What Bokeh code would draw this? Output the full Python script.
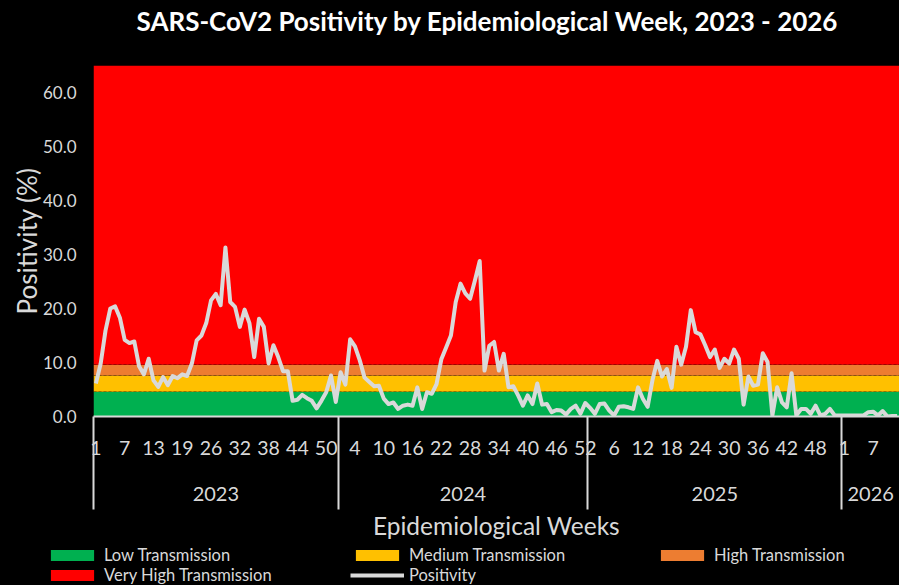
import numpy as np
from bokeh.plotting import figure
from bokeh.layouts import column
from bokeh.models import (Range1d, LinearAxis, FixedTicker, Legend, LegendItem,
                          PrintfTickFormatter, Title)
from bokeh.embed import file_html
from bokeh.resources import INLINE

# ---------------- data ----------------
years = ["2023", "2024", "2025", "2026"]
weeks_2023 = list(range(1, 20)) + list(range(21, 53))   # 51 weeks reported
weeks_2024 = list(range(1, 53))
weeks_2025 = list(range(1, 54))
weeks_2026 = list(range(1, 13))

pos_2023 = [6.1, 9.8, 15.9, 20.0, 20.4, 18.3, 14.2, 13.6, 13.9, 9.3,
            7.8, 10.7, 6.7, 5.5, 7.3, 5.8, 7.5, 7.1, 7.8, 7.5,
            9.8, 14.1, 15.0, 17.3, 21.5, 22.7, 20.6, 31.3, 21.2, 20.3,
            16.6, 19.8, 17.3, 11.0, 18.1, 16.6, 9.8, 13.2, 11.0, 8.4,
            8.4, 2.9, 3.1, 4.0, 3.4, 2.9, 1.5, 2.9, 4.5, 7.6,
            2.7]
pos_2024 = [8.2, 5.9, 14.3, 13.0, 10.4, 7.2, 6.4, 5.6, 5.7, 3.3,
            2.3, 2.6, 1.4, 2.0, 2.2, 2.0, 5.4, 1.4, 4.5, 4.2,
            6.0, 10.6, 12.8, 15.0, 21.2, 24.6, 22.8, 21.8, 25.2, 28.8,
            8.5, 13.1, 13.8, 8.5, 11.6, 5.4, 5.6, 3.9, 2.0, 3.9,
            2.3, 6.1, 2.2, 2.3, 0.8, 1.2, 1.1, 0.4, 1.4, 2.0,
            0.5, 2.5]
pos_2025 = [1.6, 0.5, 2.3, 2.4, 1.1, 0.2, 1.8, 1.9, 1.7, 1.4,
            5.4, 3.3, 1.8, 6.7, 10.3, 7.4, 8.8, 5.3, 12.9, 9.6,
            12.9, 19.7, 15.6, 15.2, 13.2, 11.0, 12.4, 9.0, 10.7, 9.8,
            12.4, 10.7, 2.2, 7.4, 5.7, 5.9, 11.7, 10.1, 0.2, 5.4,
            2.6, 1.7, 8.0, 0.2, 1.4, 1.4, 0.5, 2.0, 0.2, 0.5,
            1.4, 0.2, 0.2]
pos_2026 = [0.2, 0.2, 0.2, 0.2, 0.2, 0.8, 0.9, 0.2, 1.0, 0.0,
            0.1, 0.1]

band_names = ["Low Transmission", "Medium Transmission", "High Transmission", "Very High Transmission"]
band_tops = [4.6, 7.6, 9.6, 65.0]
band_colors = ["#00B050", "#FFC000", "#ED7D31", "#FF0000"]
y_ticks = [0, 10, 20, 30, 40, 50, 60]
label_every = 6

# ---------------- derived ----------------
weeks_by_year = [weeks_2023, weeks_2024, weeks_2025, weeks_2026]
pos_by_year = [pos_2023, pos_2024, pos_2025, pos_2026]
weeks = sum(weeks_by_year, [])
values = sum(pos_by_year, [])
n = len(weeks)
xs = list(range(n))
counts = [len(w) for w in weeks_by_year]
edges = [float(e) for e in (np.concatenate([[0], np.cumsum(counts)]) - 0.5)]
centers = [(a + b) / 2 for a, b in zip(edges[:-1], edges[1:])]
label_idx = list(range(0, n, label_every))

FONT = "Lato"
GREY = "#D9D9D9"

p = figure(width=899, height=545, output_backend="svg", toolbar_location=None,
           x_range=Range1d(-0.5, n - 0.5), y_range=Range1d(0, 65),
           x_axis_type=None, y_axis_type=None,
           min_border_left=93, min_border_right=0, min_border_top=0, min_border_bottom=129,
           background_fill_color="black", border_fill_color="black", outline_line_color=None)
p.title.text = ""
p.frame_align = False

# spacer between title and plot area (closest to the frame), then the title itself
p.add_layout(Title(text=" ", text_font_size="2px", standoff=23), "above")
p.add_layout(Title(text="SARS-CoV2  Positivity by Epidemiological Week, 2023 - 2026",
                   align="left", offset=43, vertical_align="bottom", standoff=4,
                   text_color="white", text_font=FONT, text_font_size="26px",
                   text_font_style="bold"), "above")

bottoms = [0.0] + band_tops[:-1]
band_renderers = []
for b, t, c in zip(bottoms, band_tops, band_colors):
    band_renderers.append(p.quad(left=-0.5, right=n - 0.5, bottom=b, top=t,
                                 fill_color=c, line_color=None))
# faint dashed edges between the transmission bands
p.hspan(y=band_tops[:-1], line_color="black", line_alpha=0.25, line_width=1, line_dash="3 2")

line = p.line(xs, values, line_color=GREY, line_width=4, line_join="round")

yaxis = LinearAxis(ticker=FixedTicker(ticks=y_ticks, minor_ticks=[]),
                   formatter=PrintfTickFormatter(format="%.1f"),
                   axis_label="Positivity (%)",
                   axis_line_color=None, major_tick_line_color=None, minor_tick_line_color=None,
                   major_tick_out=0, major_tick_in=0, minor_tick_out=0, minor_tick_in=0,
                   major_label_text_color=GREY, major_label_text_font=FONT,
                   major_label_text_font_size="17px", major_label_standoff=17,
                   axis_label_text_color=GREY, axis_label_text_font=FONT,
                   axis_label_text_font_size="26px", axis_label_text_font_style="normal",
                   axis_label_standoff=-3)
p.add_layout(yaxis, "left")

# week labels + year separators (long minor ticks)
week_axis = LinearAxis(ticker=FixedTicker(ticks=label_idx, minor_ticks=edges[:-1]),
                       major_label_overrides={i: str(weeks[i]) for i in label_idx},
                       axis_line_color=GREY, axis_line_width=2,
                       major_tick_out=0, major_tick_in=0, major_tick_line_color=None,
                       minor_tick_out=93, minor_tick_in=0, minor_tick_line_color=GREY,
                       minor_tick_line_width=2,
                       major_label_text_color=GREY, major_label_text_font=FONT,
                       major_label_text_font_size="19.5px", major_label_standoff=-69)
p.add_layout(week_axis, "below")

year_axis = LinearAxis(ticker=FixedTicker(ticks=centers, minor_ticks=[]),
                       major_label_overrides={c: y for c, y in zip(centers, years)},
                       axis_line_color=None, major_tick_line_color=None, minor_tick_line_color=None,
                       major_tick_out=0, major_tick_in=0, minor_tick_out=0, minor_tick_in=0,
                       major_label_text_color=GREY, major_label_text_font=FONT,
                       major_label_text_font_size="20px", major_label_standoff=29,
                       axis_label="Epidemiological Weeks",
                       axis_label_text_color=GREY, axis_label_text_font=FONT,
                       axis_label_text_font_size="24.5px", axis_label_text_font_style="normal",
                       axis_label_standoff=7)
p.add_layout(year_axis, "below")

# ---------------- legend strip (separate figure under the chart) ----------------
leg = figure(width=899, height=40, output_backend="svg", toolbar_location=None,
             x_range=Range1d(0, 1), y_range=Range1d(0, 1),
             x_axis_type=None, y_axis_type=None, min_border=0,
             background_fill_color="black", border_fill_color="black", outline_line_color=None)
leg.frame_align = False
# legend proxies, kept outside the visible range of the strip
leg_bands = [leg.quad(left=[-3], right=[-2], bottom=[-3], top=[-2], fill_color=c, line_color=None)
             for c in band_colors]
leg_line = leg.line([-3, -2], [-3, -2], line_color=GREY, line_width=4)

items = [LegendItem(label=band_names[0], renderers=[leg_bands[0]]),
         LegendItem(label=band_names[1], renderers=[leg_bands[1]]),
         LegendItem(label=band_names[2], renderers=[leg_bands[2]]),
         LegendItem(label=band_names[3], renderers=[leg_bands[3]]),
         LegendItem(label="Positivity", renderers=[leg_line])]
legend = Legend(items=items, location=(45, 0), orientation="horizontal", ncols=3,
                glyph_width=54, glyph_height=14, label_standoff=5, label_width=246,
                label_height=20, spacing=0, padding=0, margin=0,
                border_line_color=None, background_fill_alpha=0,
                label_text_color=GREY, label_text_font=FONT, label_text_font_size="16.5px")
leg.add_layout(legend, "center")

layout = column(p, leg, spacing=0, styles={"background-color": "black"})

open("out.html", "w").write(file_html(layout, INLINE))
